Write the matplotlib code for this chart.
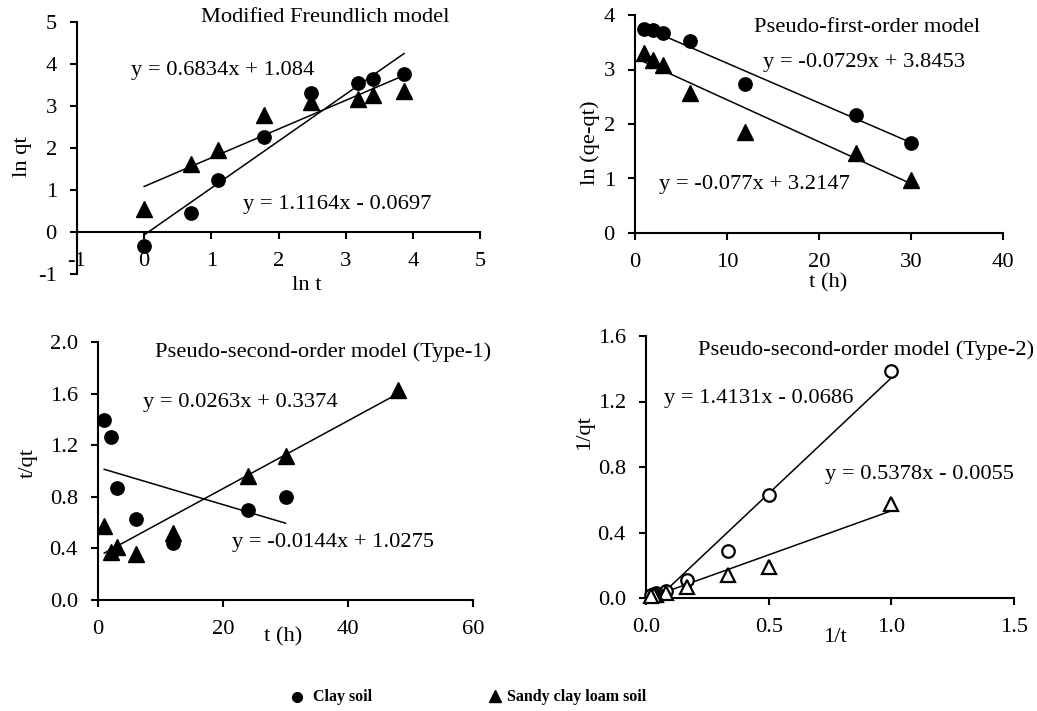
import matplotlib
matplotlib.use("Agg")
import matplotlib.pyplot as plt
import numpy as np
from matplotlib.lines import Line2D

plt.rcParams['font.family'] = ['Liberation Serif', 'DejaVu Serif']
plt.rcParams['axes.unicode_minus'] = False

# ---------- data ----------
# Panel 1: Modified Freundlich model (ln qt vs ln t)
p1_x = [0.0, 0.69, 1.10, 1.79, 2.48, 3.18, 3.40, 3.87]
p1_clay = [-0.33, 0.46, 1.24, 2.27, 3.32, 3.54, 3.64, 3.76]
p1_sandy = [0.54, 1.63, 1.95, 2.79, 3.10, 3.17, 3.26, 3.36]
p1_fit_clay = (1.1164, -0.0697)
p1_fit_sandy = (0.6834, 1.084)

# Panel 2: Pseudo-first-order model (ln(qe-qt) vs t)
p2_t = [1, 2, 3, 6, 12, 24, 30]
p2_clay = [3.74, 3.73, 3.67, 3.52, 2.74, 2.17, 1.66]
p2_sandy = [3.30, 3.17, 3.08, 2.57, 1.85, 1.46, 0.98]
p2_fit_clay = (-0.0729, 3.8453)
p2_fit_sandy = (-0.077, 3.2147)

# Panel 3: Pseudo-second-order model Type-1 (t/qt vs t)
p3_t_clay = [1, 2, 3, 6, 12, 24, 30]
p3_clay = [1.395, 1.266, 0.866, 0.628, 0.445, 0.70, 0.80]
p3_t_sandy = [1, 2, 3, 6, 12, 24, 30, 48]
p3_sandy = [0.574, 0.375, 0.41, 0.36, 0.52, 0.96, 1.12, 1.63]
p3_fit_clay = (-0.0144, 1.0275)
p3_fit_sandy = (0.0263, 0.3374)

# Panel 4: Pseudo-second-order model Type-2 (1/qt vs 1/t)
p4_x = [1.0, 0.5, 0.333, 0.167, 0.083, 0.042, 0.033, 0.021]
p4_clay = [1.384, 0.63, 0.285, 0.108, 0.045, 0.03, 0.025, 0.02]
p4_sandy = [0.576, 0.19, 0.138, 0.067, 0.03, 0.02, 0.018, 0.015]
p4_fit_clay = (1.4131, -0.0686)
p4_fit_sandy = (0.5378, -0.0055)

legend_labels = ['Clay soil', 'Sandy clay loam soil']

W, H = 1037, 711
fig = plt.figure(figsize=(W / 100, H / 100), dpi=100)

FS = 16.2


def px_axes(l, r, t, b):
    return fig.add_axes([l / W, 1 - b / H, (r - l) / W, (b - t) / H])


def style(ax):
    for s in ['top', 'right']:
        ax.spines[s].set_visible(False)
    for s in ['left', 'bottom']:
        ax.spines[s].set_linewidth(1.5)
    ax.tick_params(direction='out', length=5, width=1.5, labelsize=FS)
    ax.tick_params(axis='x', pad=9.3)
    ax.tick_params(axis='y', pad=9.5)


def fitline(ax, xs, fit):
    x0, x1 = min(xs), max(xs)
    xx = np.array([x0, x1])
    ax.plot(xx, fit[0] * xx + fit[1], color='black', lw=1.1, zorder=2)


def ftext(x, y, s, **kw):
    fig.text(x / W, 1 - y / H, s, fontsize=FS, ha='center', va='center', **kw)


MSC = 9.6
MST = 11.5

# ---- Panel 1 ----
ax1 = px_axes(77, 480, 22, 274)
style(ax1)
ax1.set_xlim(-1, 5)
ax1.set_ylim(-1, 5)
ax1.spines['bottom'].set_position(('data', 0))
ax1.set_xticks(range(-1, 6))
ax1.set_yticks(range(-1, 6))
fitline(ax1, p1_x, p1_fit_clay)
fitline(ax1, p1_x, p1_fit_sandy)
ax1.plot(p1_x, p1_sandy, '^', color='black', ms=MST, zorder=3)
ax1.plot(p1_x, p1_clay, 'o', color='black', ms=MSC, zorder=3)
ftext(22, 157, 'ln qt', rotation=90)
ftext(307, 285, 'ln t')
ftext(325, 18, 'Modified Freundlich model')
ftext(223, 70, 'y = 0.6834x + 1.084')
ftext(337, 205, 'y = 1.1164x - 0.0697')

# ---- Panel 2 ----
ax2 = px_axes(635, 1003, 15, 233)
style(ax2)
ax2.set_xlim(0, 40)
ax2.set_ylim(0, 4)
ax2.set_xticks(range(0, 41, 10))
ax2.set_yticks(range(0, 5))
fitline(ax2, p2_t, p2_fit_clay)
fitline(ax2, p2_t, p2_fit_sandy)
ax2.plot(p2_t, p2_sandy, '^', color='black', ms=MST, zorder=3, clip_on=False)
ax2.plot(p2_t, p2_clay, 'o', color='black', ms=MSC, zorder=3, clip_on=False)
ftext(590, 143, 'ln (qe-qt)', rotation=90)
ftext(828, 283, 't (h)')
ftext(867, 27, 'Pseudo-first-order model')
ftext(864, 62, 'y = -0.0729x + 3.8453')
ftext(754, 185, 'y = -0.077x + 3.2147')

# ---- Panel 3 ----
ax3 = px_axes(98, 473, 342, 600)
style(ax3)
ax3.set_xlim(0, 60)
ax3.set_ylim(0, 2.0)
ax3.set_xticks(range(0, 61, 20))
ax3.set_yticks(np.arange(0, 2.01, 0.4))
ax3.yaxis.set_major_formatter(matplotlib.ticker.FormatStrFormatter('%.1f'))
fitline(ax3, p3_t_clay, p3_fit_clay)
fitline(ax3, p3_t_sandy, p3_fit_sandy)
ax3.plot(p3_t_clay, p3_clay, 'o', color='black', ms=MSC, zorder=3)
ax3.plot(p3_t_sandy, p3_sandy, '^', color='black', ms=MST, zorder=3)
ftext(28, 463, 't/qt', rotation=90)
ftext(283, 637, 't (h)')
ftext(323, 352, 'Pseudo-second-order model (Type-1)')
ftext(240, 403, 'y = 0.0263x + 0.3374')
ftext(333, 542, 'y = -0.0144x + 1.0275')

# ---- Panel 4 ----
ax4 = px_axes(646, 1014, 336, 598)
style(ax4)
ax4.set_xlim(0, 1.5)
ax4.set_ylim(0, 1.6)
ax4.set_xticks([0, 0.5, 1.0, 1.5])
ax4.set_yticks(np.arange(0, 1.61, 0.4))
ax4.xaxis.set_major_formatter(matplotlib.ticker.FormatStrFormatter('%.1f'))
ax4.yaxis.set_major_formatter(matplotlib.ticker.FormatStrFormatter('%.1f'))
fitline(ax4, p4_x, p4_fit_clay)
fitline(ax4, p4_x, p4_fit_sandy)
ax4.plot(p4_x, p4_clay, 'o', mfc='white', mec='black', mew=1.6, ms=9, zorder=3, clip_on=False)
ax4.plot(p4_x, p4_sandy, '^', mfc='white', mec='black', mew=1.6, ms=9.5, zorder=3, clip_on=False)
ftext(585, 432, '1/qt', rotation=90)
ftext(835, 638, '1/t')
ftext(866, 350, 'Pseudo-second-order model (Type-2)')
ftext(759, 398, 'y = 1.4131x - 0.0686')
ftext(919, 475, 'y = 0.5378x - 0.0055')

# ---- Legend (figure-level keys) ----
fig.add_artist(Line2D([297 / W], [1 - 697 / H], transform=fig.transFigure,
                      ls='none', marker='o', color='black', ms=7))
fig.add_artist(Line2D([495 / W], [1 - 696 / H], transform=fig.transFigure,
                      ls='none', marker='^', color='black', ms=8))
fig.text(313 / W, 1 - 697 / H, legend_labels[0], fontsize=11.5, weight='bold',
         ha='left', va='center')
fig.text(507 / W, 1 - 697 / H, legend_labels[1], fontsize=11.5, weight='bold',
         ha='left', va='center')

fig.savefig('out.png', dpi=100)
